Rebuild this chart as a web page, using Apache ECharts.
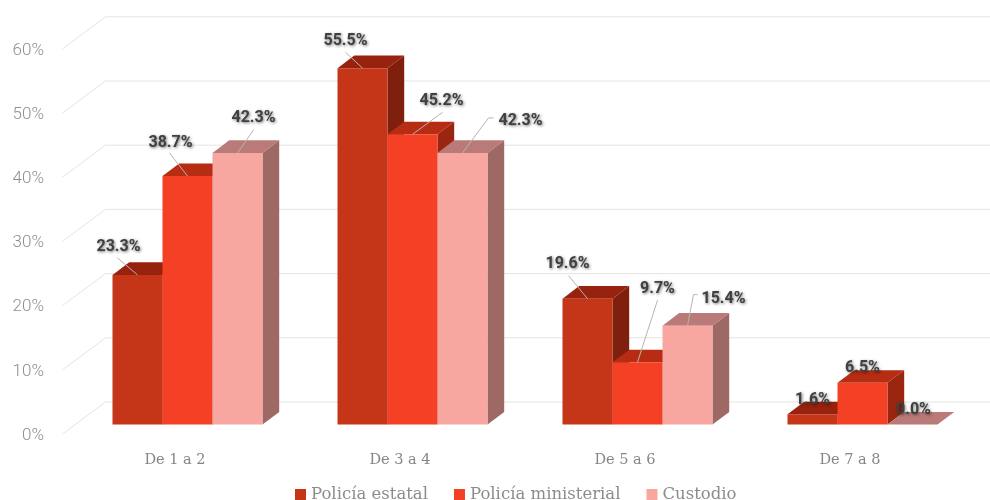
<!DOCTYPE html>
<html>
<head>
<meta charset="utf-8">
<style>html,body{margin:0;padding:0;background:#fff}#c{width:990px;height:500px}</style>
<script src="https://cdn.jsdelivr.net/npm/echarts@6/dist/echarts.min.js"></script>
</head>
<body>
<div id="c"></div>
<script>
const categories = ['De 1 a 2', 'De 3 a 4', 'De 5 a 6', 'De 7 a 8'];
const seriesNames = ['Policía estatal', 'Policía ministerial', 'Custodio'];
const estatal = [23.3, 55.5, 19.6, 1.6];
const ministerial = [38.7, 45.2, 9.7, 6.5];
const custodio = [42.3, 42.3, 15.4, 0.0];
const yTicks = [0, 10, 20, 30, 40, 50, 60];

// styling and layout, separate from the values
const palettes = [
  { front: '#c53518', top: '#97230f', side: '#7f1f0d' },
  { front: '#f44024', top: '#b62d14', side: '#9a2610' },
  { front: '#f7a6a0', top: '#ba7b78', side: '#9e6865' }
];
const DEPTH_X = 16.7, DEPTH_Y = 12.6;
const LABEL_NUDGE_Y = 1.5;
const WALL_FRONT_X = 12.5, WALL_BACK_X = 30.5, WALL_FRONT_Y = 9.5, WALL_BACK_Y = 22.5;
// label centre and leader relative to the front-top centre of its bar: [series][category]
const labelLayout = [
  [ { d: [-19, -29], l: [[-20, -17], [0, 0]] },
    { d: [-17, -29], l: [[-17, -16], [0, 0]] },
    { d: [-20, -36], l: [[-19, -23], [0, 0]] },
    { d: [0, -16] } ],
  [ { d: [-17, -35], l: [[-18, -23], [0, 0]] },
    { d: [29, -35], l: [[30, -22], [0, 0]] },
    { d: [20, -75], l: [[20, -62], [0, 0]] },
    { d: [0, -16] } ],
  [ { d: [16, -36], l: [[16, -23], [0, 0]] },
    { d: [58, -33], l: [[31, -35], [26, -35], [0, 0]] },
    { d: [36, -28], l: [[10, -31], [6, -31], [0, 0]] },
    { d: [1, -16] } ]
];

const seriesValues = [estatal, ministerial, custodio];
const GRID = { left: 75, width: 900, top: 39.3, height: 385.2 };
const BAR_RATIO = 2 / 9;

function barX(api, cat, si) {
  const cx = api.coord([cat, 0])[0];
  const w = api.size([1, 0])[0] * BAR_RATIO;
  return { x0: cx + (si - 1.5) * w, w: w };
}

function barSeries(si) {
  const pal = palettes[si];
  return {
    type: 'custom',
    name: seriesNames[si],
    coordinateSystem: 'cartesian2d',
    xAxisIndex: 0, yAxisIndex: 0,
    z: 3 + si,
    silent: true,
    itemStyle: { color: pal.front },
    encode: { x: 0, y: 1 },
    data: seriesValues[si].map((v, i) => [i, v]),
    renderItem(params, api) {
      const cat = api.value(0), val = api.value(1);
      const b = barX(api, cat, si);
      const yTop = api.coord([cat, val])[1];
      const yBase = api.coord([cat, 0])[1];
      const x0 = b.x0, x1 = b.x0 + b.w;
      const children = [
        { type: 'polygon', shape: { points: [[x1, yBase], [x1 + DEPTH_X, yBase - DEPTH_Y], [x1 + DEPTH_X, yTop - DEPTH_Y], [x1, yTop]] }, style: { fill: pal.side } },
        { type: 'polygon', shape: { points: [[x0, yTop], [x0 + DEPTH_X, yTop - DEPTH_Y], [x1 + DEPTH_X, yTop - DEPTH_Y], [x1, yTop]] }, style: { fill: pal.top } }
      ];
      if (val > 0) children.push({ type: 'rect', shape: { x: x0, y: yTop, width: b.w, height: yBase - yTop }, style: { fill: pal.front } });
      return { type: 'group', children };
    }
  };
}

const wallSeries = {
  type: 'custom',
  name: 'Pared',
  coordinateSystem: 'cartesian2d',
  xAxisIndex: 0, yAxisIndex: 0,
  z: 1,
  silent: true,
  encode: { y: 0 },
  data: yTicks.map(t => [t]),
  renderItem(params, api) {
    const y = api.coord([0, api.value(0)])[1];
    const left = GRID.left;
    return {
      type: 'polyline',
      shape: { points: [[left - WALL_FRONT_X, y + WALL_FRONT_Y], [left + WALL_BACK_X, y - WALL_BACK_Y], [api.getWidth(), y - WALL_BACK_Y]] },
      style: { fill: 'none', stroke: '#e4e4e4', lineWidth: 1 }
    };
  }
};

const labelData = [];
seriesValues.forEach((arr, si) => arr.forEach((v, ci) => labelData.push([ci, v, si])));

const labelSeries = {
  type: 'custom',
  name: 'Etiquetas',
  coordinateSystem: 'cartesian2d',
  xAxisIndex: 0, yAxisIndex: 0,
  z: 10,
  silent: true,
  encode: { x: 0, y: 1 },
  data: labelData,
  renderItem(params, api) {
    const cat = api.value(0), val = api.value(1), si = api.value(2);
    const b = barX(api, cat, si);
    const ax = b.x0 + b.w / 2, ay = api.coord([cat, val])[1];
    const lay = labelLayout[si][cat];
    const children = [];
    if (lay.l) {
      children.push({
        type: 'polyline',
        shape: { points: lay.l.map(p => [ax + p[0], ay + p[1]]) },
        style: { fill: 'none', stroke: '#b5b5b5', lineWidth: 1 }
      });
    }
    children.push({
      type: 'text',
      style: {
        text: val.toFixed(1) + '%',
        x: ax + lay.d[0], y: ay + lay.d[1] + LABEL_NUDGE_Y,
        align: 'center', verticalAlign: 'middle',
        fill: '#404040',
        font: 'bold 16px Roboto',
        textShadowColor: 'rgba(0,0,0,0.55)', textShadowBlur: 3, textShadowOffsetX: 1, textShadowOffsetY: 1
      }
    });
    return { type: 'group', children };
  }
};

const chart = echarts.init(document.getElementById('c'), null, { renderer: 'canvas' });
chart.setOption({
  animation: false,
  backgroundColor: '#ffffff',
  grid: { left: GRID.left, width: GRID.width, top: GRID.top, height: GRID.height },
  legend: {
    data: seriesNames,
    left: 290, top: 481,
    icon: 'rect',
    itemWidth: 11, itemHeight: 11, itemGap: 26,
    selectedMode: false,
    textStyle: { color: '#8c8c8c', fontFamily: 'DejaVu Serif', fontSize: 16.5 }
  },
  xAxis: {
    type: 'category',
    data: categories,
    axisLine: { show: false },
    axisTick: { show: false },
    splitLine: { show: false },
    axisLabel: { color: '#858585', fontFamily: 'DejaVu Serif', fontSize: 14.5, margin: 28, padding: [0, 25, 0, 0] }
  },
  yAxis: {
    type: 'value',
    min: 0, max: 60, interval: 10,
    axisLine: { show: false },
    axisTick: { show: false },
    splitLine: { show: false },
    axisLabel: { color: '#8f8f8f', fontFamily: 'Roboto', fontWeight: 300, fontSize: 17, margin: 31, verticalAlign: 'top', lineHeight: 22, formatter: '{value}%' }
  },
  series: [wallSeries, barSeries(0), barSeries(1), barSeries(2), labelSeries]
});
</script>
</body>
</html>
